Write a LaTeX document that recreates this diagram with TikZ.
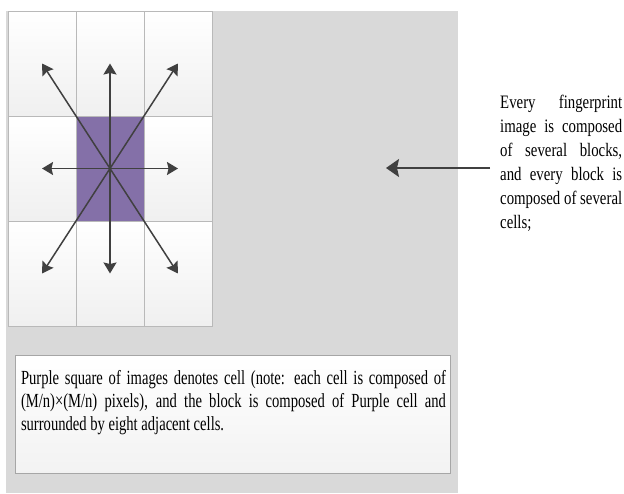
\documentclass[tikz,border=0pt]{standalone}
\usepackage{fontspec}
\setmainfont{Liberation Serif}
\newfontfamily\narrowfont[FakeStretch=0.78]{Liberation Serif}
\newfontfamily\slimfont[FakeStretch=0.73]{Liberation Serif}
\usetikzlibrary{arrows.meta, positioning}

\definecolor{panelgray}{RGB}{217,217,217}
\definecolor{cellpurple}{RGB}{132,112,168}
\definecolor{raygray}{RGB}{64,64,64}

\begin{document}
\begin{tikzpicture}[x=1pt, y=-1pt,
    cell/.style={draw=gray!55, line width=0.8pt, minimum width=68pt, minimum height=105pt, inner sep=0pt, top color=white, bottom color=gray!12},
    core/.style={draw=gray!55, line width=0.8pt, minimum width=68pt, minimum height=105pt, inner sep=0pt, fill=cellpurple},
    ray/.style={-{Stealth[length=11pt, width=13pt, inset=1.5pt]}, line width=1.5pt, raygray},
    note/.style={align=justify, inner sep=0pt, execute at begin node={\hyphenpenalty=10000\exhyphenpenalty=10000}},
]
  \useasboundingbox (0,0) rectangle (624,493);
  \fill[panelgray] (6,11) rectangle (458,493);

  % cells of the block
  \node[cell] (tl) at (42,63.5) {};
  \node[cell] (tc) at (110,63.5) {};
  \node[cell] (tr) at (178,63.5) {};
  \node[cell] (ml) at (42,168.5) {};
  \node[core] (mc) at (110,168.5) {};
  \node[cell] (mr) at (178,168.5) {};
  \node[cell] (bl) at (42,273.5) {};
  \node[cell] (bc) at (110,273.5) {};
  \node[cell] (br) at (178,273.5) {};

  \draw[ray] (mc.center) -- (tl.center);
  \draw[ray] (mc.center) -- (tc.center);
  \draw[ray] (mc.center) -- (tr.center);
  \draw[ray] (mc.center) -- (ml.center);
  \draw[ray] (mc.center) -- (mr.center);
  \draw[ray] (mc.center) -- (bl.center);
  \draw[ray] (mc.center) -- (bc.center);
  \draw[ray] (mc.center) -- (br.center);

  % explanation on the right
  \node[note, font=\narrowfont\fontsize{19}{24}\selectfont, text width=122pt, anchor=north west] (blocktext) at (500,95)
    {Every fingerprint image is composed of several blocks, and every block is composed of several cells;};
  \coordinate (tail) at (490,168);
  \coordinate (head) at (386,168);
  \draw[ray, line width=1.9pt, -{Stealth[length=13pt, width=18pt, inset=2pt]}] (tail) -- (head);

  % explanation below
  \node[draw=gray!70, line width=0.8pt, minimum width=435pt, minimum height=118pt, inner sep=0pt, top color=white, bottom color=gray!10] (noteframe) at (232.5,414) {};
  \node[note, font=\slimfont\fontsize{20}{23}\selectfont, text width=425pt] (notetext) at (233.5,403)
    {Purple square of images denotes cell (note: each cell is composed of (M/n)×(M/n) pixels), and the block is composed of Purple cell and surrounded by eight adjacent cells.};
\end{tikzpicture}
\end{document}
